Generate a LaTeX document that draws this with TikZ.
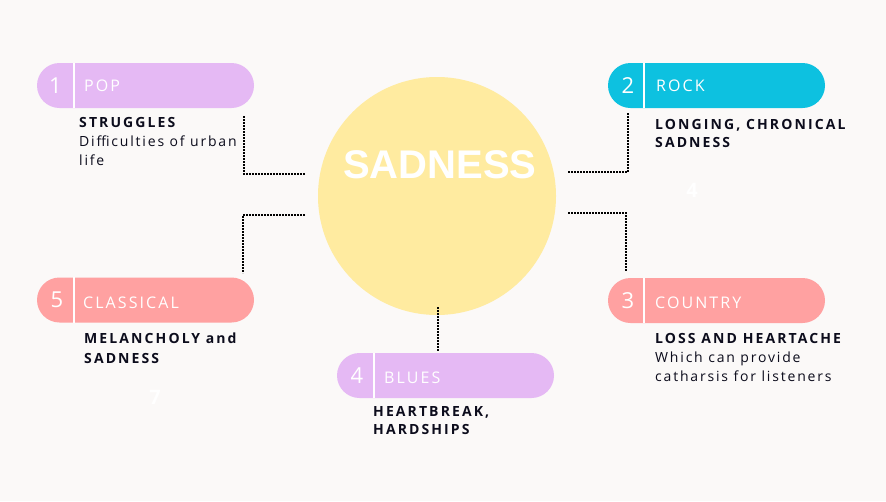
\documentclass[tikz,border=0pt]{standalone}
\usepackage{fontspec}
\setmainfont{Open Sans}
\newfontfamily\titlefont{Liberation Sans}
\definecolor{bg}{HTML}{FBF9F8}
\definecolor{lilac}{HTML}{E5B9F4}
\definecolor{cyanp}{HTML}{0DC1E0}
\definecolor{salmon}{HTML}{FFA1A1}
\definecolor{sun}{HTML}{FFEBA0}
\definecolor{ink}{HTML}{0C0C1C}
\begin{document}
\begin{tikzpicture}[x=1pt,y=-1pt,
  pill/.style={minimum width=217pt, minimum height=45pt, rounded corners=22.5pt, inner sep=0pt, draw=none},
  num/.style={text=white, inner sep=0pt, font=\fontsize{22}{24}\selectfont},
  plabel/.style={text=white, inner sep=0pt, anchor=base west, font=\fontsize{16}{18}\selectfont\addfontfeatures{LetterSpace=13}},
  divider/.style={white, line width=2pt},
  hd/.style={text=ink, inner sep=0pt, anchor=base west, font=\fontsize{14}{16}\selectfont\bfseries\addfontfeatures{LetterSpace=15}},
  bd/.style={text=ink, inner sep=0pt, anchor=base west, font=\fontsize{14}{16}\selectfont\addfontfeatures{LetterSpace=13}},
  dotline/.style={line width=1.6pt, dash pattern=on 1.6pt off 1.4pt, black},
  ghost/.style={text=white, inner sep=0pt, font=\fontsize{20}{24}\selectfont\bfseries}
]
\useasboundingbox[fill=bg] (0,0) rectangle (886,501);

% central circle
\node[circle, fill=sun, minimum size=238pt, inner sep=0pt] (sad) at (437,196) {};
\node[text=white, inner sep=0pt, font=\titlefont\fontsize{40}{44}\selectfont\bfseries] (sadt) at (440,165) {SADNESS};

% connectors
\coordinate (c1a) at (244,116); \coordinate (c1b) at (305,174);
\coordinate (c2a) at (628,113); \coordinate (c2b) at (568,172);
\coordinate (c5a) at (305,215); \coordinate (c5b) at (243,273);
\coordinate (c3a) at (568,213); \coordinate (c3b) at (626,271);
\coordinate (c4a) at (438,307); \coordinate (c4b) at (438,351);
\draw[dotline] (c1a) |- (c1b);
\draw[dotline] (c2a) |- (c2b);
\draw[dotline] (c5a) -| (c5b);
\draw[dotline] (c3a) -| (c3b);
\draw[dotline] (c4a) -- (c4b);

% pill 1 POP
\node[pill, fill=lilac] (pop) at (145.5,85.5) {};
\draw[divider] ([xshift=37pt]pop.south west) -- ([xshift=37pt]pop.north west);
\node[num] (popn) at (55.5,85.5) {1};
\node[plabel] (popl) at (84,91.5) {POP};
\node[hd] (popa) at (79,127) {STRUGGLES};
\node[bd] (popb) at (79,146) {Difficulties of urban};
\node[bd] (popc) at (79,165.5) {life};

% pill 2 ROCK
\node[pill, fill=cyanp] (rock) at (716.5,85.5) {};
\draw[divider] ([xshift=36pt]rock.south west) -- ([xshift=36pt]rock.north west);
\node[num] (rockn) at (628,85.5) {2};
\node[plabel] (rockl) at (656,91.5) {ROCK};
\node[hd] (rocka) at (655,129) {LONGING, CHRONICAL};
\node[hd] (rockb) at (655,147.5) {SADNESS};

% pill 5 CLASSICAL
\node[pill, fill=salmon] (cls) at (145.5,300) {};
\draw[divider] ([xshift=37pt]cls.south west) -- ([xshift=37pt]cls.north west);
\node[num] (clsn) at (57,300) {5};
\node[plabel] (clsl) at (83,308) {CLASSICAL};
\node[hd] (clsa) at (84,343) {MELANCHOLY and};
\node[hd] (clsb) at (84,363) {SADNESS};

% pill 3 COUNTRY
\node[pill, fill=salmon] (cty) at (716.5,300.5) {};
\draw[divider] ([xshift=36pt]cty.south west) -- ([xshift=36pt]cty.north west);
\node[num] (ctyn) at (628,300.5) {3};
\node[plabel] (ctyl) at (655,308) {COUNTRY};
\node[hd] (ctya) at (655,343) {LOSS AND HEARTACHE};
\node[bd] (ctyb) at (655,362.5) {Which can provide};
\node[bd] (ctyc) at (655,381.5) {catharsis for listeners};

% pill 4 BLUES
\node[pill, fill=lilac] (blu) at (445.5,375.5) {};
\draw[divider] ([xshift=37pt]blu.south west) -- ([xshift=37pt]blu.north west);
\node[num] (blun) at (357,375.5) {4};
\node[plabel] (blul) at (384,383) {BLUES};
\node[hd] (blua) at (373,416) {HEARTBREAK,};
\node[hd] (blub) at (373,434.5) {HARDSHIPS};

% faint white numbers
\node[ghost] (g4) at (692,190) {4};
\node[ghost] (g7) at (155,397) {7};
\end{tikzpicture}
\end{document}
